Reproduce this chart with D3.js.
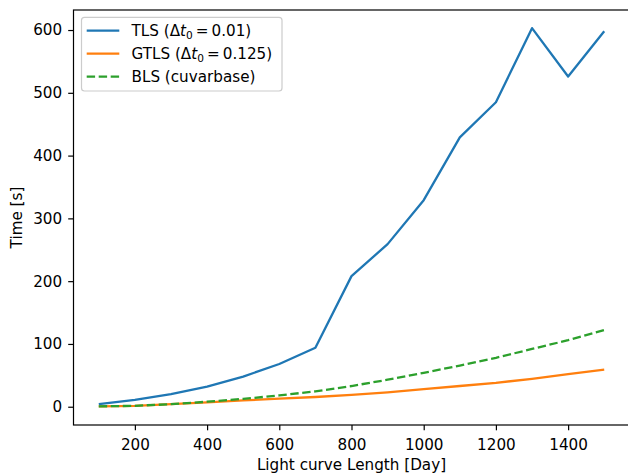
<!DOCTYPE html>
<html>
<head>
<meta charset="utf-8">
<script src="https://cdn.jsdelivr.net/npm/d3@7"></script>
<style>
  body { margin: 0; background: #fff; }
  svg { display: block; font-family: "DejaVu Sans", sans-serif; }
</style>
</head>
<body>
<div id="chart"></div>
<script>
// light curve length in days
const lengths = [100, 200, 300, 400, 500, 600, 700, 800, 900, 1000, 1100, 1200, 1300, 1400, 1500];
// runtimes in seconds
const tlsTimes = [4.3, 11, 20, 32, 48, 68, 94, 208, 259, 329, 429, 485, 603, 526, 598];
const gtlsTimes = [0.5, 1.5, 4, 7, 10, 13, 15.5, 19, 23, 28, 33, 38, 44.5, 52, 59];
const blsTimes = [0.5, 1.5, 4, 8, 12.5, 18, 24.5, 33, 43, 54, 65.5, 78, 92, 106, 122];
const xTicks = [200, 400, 600, 800, 1000, 1200, 1400];
const yTicks = [0, 100, 200, 300, 400, 500, 600];

const W = 628, H = 474;
const plot = { left: 73.5, right: 629.5, top: 10, bottom: 425 };
const fs = "15.2px";

const svg = d3.select("#chart").append("svg")
    .attr("width", W)
    .attr("height", H);

const x = d3.scaleLinear().domain([30, 1570]).range([plot.left, plot.right]);
const y = d3.scaleLinear().domain([-29.1, 631.9]).range([plot.bottom, plot.top]);

const series = [
    { name: "TLS", values: tlsTimes, color: "#1f77b4", dash: null },
    { name: "GTLS", values: gtlsTimes, color: "#ff7f0e", dash: null },
    { name: "BLS", values: blsTimes, color: "#2ca02c", dash: "8.4,3.6" }
];

const line = d3.line()
    .x((d) => x(d[0]))
    .y((d) => y(d[1]));

svg.append("g")
    .selectAll("path")
    .data(series)
    .enter()
    .append("path")
    .attr("d", (s) => line(lengths.map((l, i) => [l, s.values[i]])))
    .attr("fill", "none")
    .attr("stroke", (s) => s.color)
    .attr("stroke-width", 2.3)
    .attr("stroke-dasharray", (s) => s.dash)
    .attr("stroke-linejoin", "round");

// axes
const xAxis = svg.append("g")
    .attr("transform", "translate(0," + plot.bottom + ")")
    .call(d3.axisBottom(x).tickValues(xTicks).tickSize(5.3).tickPadding(8.5).tickFormat(d3.format("d")));
const yAxis = svg.append("g")
    .attr("transform", "translate(" + plot.left + ",0)")
    .call(d3.axisLeft(y).tickValues(yTicks).tickSize(5.3).tickPadding(6).tickFormat(d3.format("d")));

[xAxis, yAxis].forEach((g) => {
    g.select(".domain").remove();
    g.selectAll("line").attr("stroke", "#000").attr("stroke-width", 1.2);
    g.selectAll("text")
        .attr("fill", "#000")
        .style("font-size", fs)
        .style("font-family", "DejaVu Sans");
});

// spines
svg.append("rect")
    .attr("x", plot.left)
    .attr("y", plot.top)
    .attr("width", plot.right - plot.left)
    .attr("height", plot.bottom - plot.top)
    .attr("fill", "none")
    .attr("stroke", "#000")
    .attr("stroke-width", 1.2);

// axis labels
svg.append("text")
    .attr("x", (plot.left + plot.right) / 2)
    .attr("y", 469.5)
    .attr("text-anchor", "middle")
    .style("font-size", fs)
    .text("Light curve Length [Day]");

svg.append("text")
    .attr("transform", "translate(22," + (plot.top + plot.bottom) / 2 + ") rotate(-90)")
    .attr("text-anchor", "middle")
    .style("font-size", fs)
    .text("Time [s]");

// legend
const legend = svg.append("g");
legend.append("rect")
    .attr("x", 81.5)
    .attr("y", 17.3)
    .attr("width", 200.5)
    .attr("height", 73.7)
    .attr("rx", 3)
    .attr("fill", "#fff")
    .attr("fill-opacity", 0.8)
    .attr("stroke", "#cccccc")
    .attr("stroke-width", 1.2);

const labels = [
    { pre: "TLS (Δ", val: "0.01)" },
    { pre: "GTLS (Δ", val: "0.125)" },
    { pre: "BLS (cuvarbase)", val: null }
];

series.forEach((s, i) => {
    const cy = 30.7 + i * 23;
    legend.append("line")
        .attr("x1", 86.7).attr("x2", 119.3)
        .attr("y1", cy).attr("y2", cy)
        .attr("stroke", s.color)
        .attr("stroke-width", 2.3)
        .attr("stroke-dasharray", s.dash);
    const t = legend.append("text")
        .attr("x", 131.5)
        .attr("y", cy + 5.5)
        .style("font-size", fs);
    const lab = labels[i];
    t.append("tspan").text(lab.pre);
    if (lab.val) {
        t.append("tspan").style("font-style", "italic").text("t");
        t.append("tspan").attr("dy", 2.6).style("font-size", "10.6px").text("0");
        t.append("tspan").attr("dy", -2.6).text("\u2009=\u2009" + lab.val);
    }
});
</script>
</body>
</html>
